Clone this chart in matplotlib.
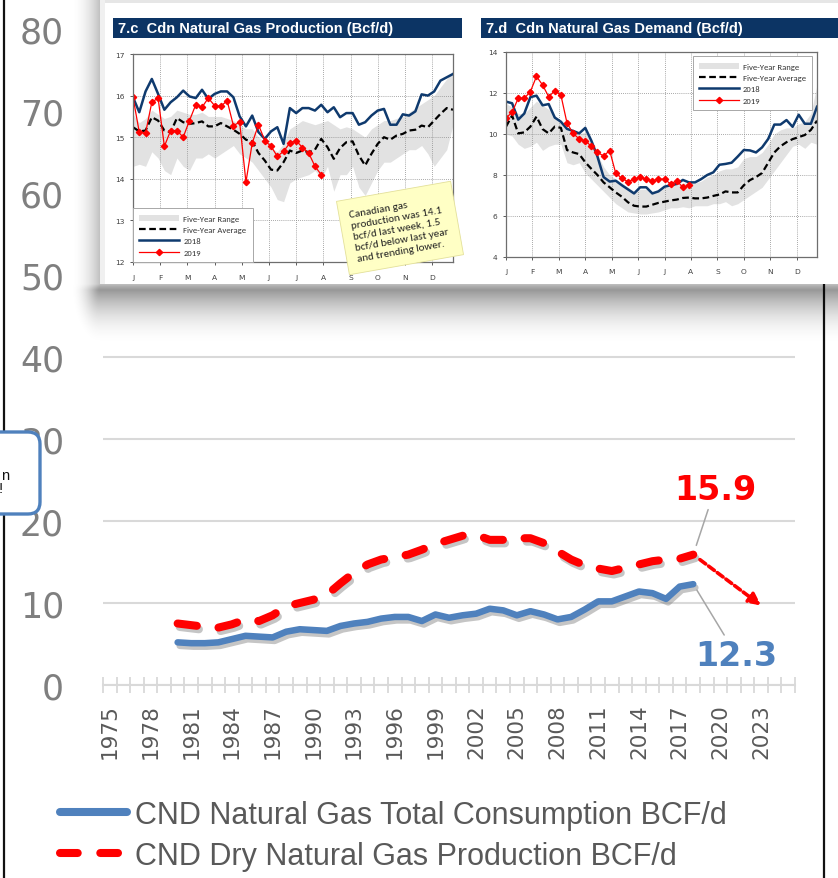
import numpy as np
import matplotlib
matplotlib.use("Agg")
import matplotlib.pyplot as plt
from matplotlib import font_manager
from matplotlib import patheffects as pe
from matplotlib.lines import Line2D
from matplotlib.patches import Rectangle, FancyBboxPatch

W, H = 838, 879

# ---- main chart data (BCF/d) ----
years = list(range(1980, 2019))
consumption = [5.2, 5.1, 5.1, 5.2, 5.6, 6.0, 5.9, 5.8, 6.5, 6.8,
               6.7, 6.6, 7.2, 7.5, 7.7, 8.1, 8.3, 8.3, 7.8, 8.6,
               8.2, 8.5, 8.7, 9.3, 9.1, 8.5, 9.0, 8.6, 8.0, 8.3,
               9.2, 10.2, 10.2, 10.8, 11.4, 11.2, 10.5, 12.0, 12.3]
production = [7.5, 7.3, 7.1, 7.0, 7.4, 8.0, 7.8, 8.5, 9.6, 10.0,
              10.4, 11.0, 12.4, 13.7, 14.7, 15.3, 15.6, 15.9, 16.5, 17.2,
              17.7, 18.2, 18.3, 17.7, 17.7, 17.9, 17.9, 17.3, 16.3, 15.3,
              14.6, 14.2, 13.9, 14.3, 14.7, 15.1, 15.3, 15.4, 15.9]
proj_years = [2018, 2023]
proj_values = [15.9, 9.7]
tick_years = list(range(1975, 2024, 3))
legend_labels = ["CND Natural Gas Total Consumption BCF/d",
                 "CND Dry Natural Gas Production BCF/d"]

# ---- inset charts (weekly, Bcf/d) ----
months = ["J", "F", "M", "A", "M", "J", "J", "A", "S", "O", "N", "D"]
prod_hi = [15.55, 15.35, 15.45, 15.65, 15.55, 15.45, 15.5, 15.65, 15.6, 15.55,
           15.55, 15.6, 15.5, 15.5, 15.5, 15.45, 15.4, 15.3, 15.2, 15.2,
           15.0, 14.9, 14.75, 14.65, 14.85, 15.2, 15.3, 15.4, 15.35, 15.3,
           15.35, 15.4, 15.3, 15.2, 15.25, 15.2, 15.1, 15.0, 15.2, 15.3,
           15.4, 15.4, 15.45, 15.5, 15.6, 15.7, 15.8, 15.9, 16.0, 16.2,
           16.4, 16.6]
prod_lo = [14.3, 14.35, 14.3, 14.65, 14.5, 14.2, 14.1, 14.5, 14.3, 14.2,
           14.5, 14.5, 14.6, 14.5, 14.6, 14.7, 14.8, 14.6, 14.5, 14.4,
           14.2, 14.0, 13.8, 13.5, 13.45, 13.9, 14.0, 14.05, 14.1, 14.2,
           14.0, 14.3, 13.7, 14.1, 14.1, 14.3, 13.8, 13.6, 13.9, 14.2,
           14.4, 14.4, 14.5, 14.6, 14.7, 14.7, 14.8, 14.6, 14.3, 14.5,
           14.7, 15.3]
prod_avg = [15.24, 15.14, 15.16, 15.48, 15.4, 15.16, 15.12, 15.46, 15.36, 15.32,
            15.34, 15.38, 15.26, 15.26, 15.34, 15.26, 15.18, 15.08, 14.94, 14.9,
            14.62, 14.44, 14.22, 14.2, 14.4, 14.68, 14.62, 14.68, 14.64, 14.7,
            14.96, 14.76, 14.48, 14.74, 14.88, 14.9, 14.56, 14.32, 14.6, 14.84,
            15.0, 14.94, 15.04, 15.08, 15.16, 15.18, 15.28, 15.24, 15.4, 15.56,
            15.7, 15.66]
prod_2018 = [15.96, 15.6, 16.1, 16.4, 16.04, 15.66, 15.84, 15.96, 16.12, 15.98,
             15.94, 16.14, 15.92, 16.04, 16.1, 16.1, 15.96, 15.5, 15.26, 15.52,
             15.12, 14.96, 15.14, 15.24, 14.84, 15.7, 15.58, 15.7, 15.7, 15.64,
             15.78, 15.6, 15.72, 15.48, 15.58, 15.58, 15.3, 15.36, 15.52, 15.64,
             15.68, 15.3, 15.3, 15.55, 15.52, 15.62, 16.03, 16.0, 16.1, 16.36,
             16.44, 16.52]
prod_2019 = [15.96, 15.12, 15.1, 15.84, 15.94, 14.78, 15.16, 15.16, 15.0, 15.4,
             15.78, 15.72, 15.94, 15.76, 15.74, 15.88, 15.28, 15.36, 13.92, 14.86,
             15.3, 14.92, 14.78, 14.54, 14.66, 14.86, 14.92, 14.75, 14.62, 14.3,
             14.1]

dem_hi = [11.5, 11.3, 11.0, 11.0, 11.3, 11.6, 11.4, 11.2, 10.9, 10.6,
          10.3, 10.1, 10.0, 10.1, 9.6, 9.0, 8.4, 8.0, 7.8, 7.6,
          7.4, 7.2, 7.3, 7.3, 7.2, 7.3, 7.4, 7.5, 7.5, 7.6,
          7.6, 7.6, 7.7, 7.9, 8.0, 8.2, 8.3, 8.3, 8.4, 8.8,
          8.9, 8.9, 9.1, 9.5, 10.0, 10.2, 10.3, 10.3, 10.5, 10.6,
          11.0, 12.4]
dem_lo = [10.0, 9.9, 9.5, 9.3, 9.4, 9.6, 9.2, 9.4, 9.5, 9.5,
          8.6, 8.5, 8.6, 8.1, 7.8, 7.5, 7.2, 6.9, 6.6, 6.4,
          6.2, 6.15, 6.1, 6.1, 6.15, 6.2, 6.3, 6.4, 6.4, 6.45,
          6.4, 6.5, 6.5, 6.5, 6.6, 6.6, 6.7, 6.5, 6.6, 6.8,
          7.0, 7.2, 7.4, 7.8, 8.2, 8.6, 9.0, 9.4, 9.5, 9.3,
          9.6, 9.5]
dem_avg = [10.36, 10.9, 10.03, 10.08, 10.36, 10.85, 10.24, 10.03, 10.36, 10.3,
           9.22, 9.1, 9.02, 8.62, 8.3, 8.0, 7.64, 7.4, 7.15, 6.94,
           6.67, 6.5, 6.46, 6.46, 6.55, 6.64, 6.7, 6.76, 6.8, 6.88,
           6.9, 6.86, 6.86, 6.9, 6.98, 7.05, 7.2, 7.15, 7.15, 7.5,
           7.75, 7.9, 8.1, 8.6, 9.1, 9.4, 9.6, 9.75, 9.85, 9.95,
           10.2, 10.65]
dem_2018 = [11.58, 11.5, 10.7, 11.0, 11.8, 11.87, 11.4, 11.46, 10.8, 10.6,
            10.25, 10.15, 10.03, 10.3, 9.67, 8.9, 7.9, 7.68, 7.72, 7.5,
            7.3, 7.1, 7.4, 7.4, 7.1, 7.2, 7.43, 7.5, 7.56, 7.76,
            7.64, 7.64, 7.8, 8.0, 8.13, 8.5, 8.54, 8.6, 8.9, 9.22,
            9.2, 9.1, 9.35, 9.76, 10.46, 10.46, 10.68, 10.35, 10.94, 10.5,
            10.5, 11.33]
dem_2019 = [10.78, 11.06, 11.74, 11.74, 12.07, 12.81, 12.39, 11.82, 12.11, 11.9,
            10.54, 10.03, 9.76, 9.67, 9.4, 9.1, 8.93, 9.19, 8.08, 7.84,
            7.67, 7.8, 7.89, 7.8, 7.72, 7.8, 7.8, 7.56, 7.72, 7.4,
            7.5]
note_text = ("Canadian gas\nproduction was 14.1\nbcf/d last week, 1.5\n"
             "bcf/d below last year\nand trending lower.")

BLUE, RED, NAVY, GREY = "#4F81BD", "#FF0000", "#0C3464", "#D9D9D9"

installed = {f.name for f in font_manager.fontManager.ttflist}


def pick(*names):
    for n in names:
        if n in installed:
            return n
    return "DejaVu Sans"


ARIAL = pick("Liberation Sans", "Arimo", "DejaVu Sans")
SOFT = pick("Carlito", "Lato", "Open Sans", "Liberation Sans")


def px(x0, y0, x1, y1):
    # pixel box (top-left origin) -> figure fraction rect
    return [x0 / W, 1 - y1 / H, (x1 - x0) / W, (y1 - y0) / H]


fig = plt.figure(figsize=(W / 100, H / 100), dpi=100)
fig.patch.set_facecolor("white")

# ---------------- main chart ----------------
ax = fig.add_axes(px(103, 30, 795, 686), zorder=0)
shadow = [pe.SimpleLineShadow(offset=(1.5, -2.5), shadow_color="#7f7f7f", alpha=0.45),
          pe.Normal()]
ax.plot(years, consumption, color=BLUE, lw=4.7, solid_capstyle="round",
        solid_joinstyle="round", path_effects=shadow, zorder=3)
ax.plot(years, production, color=RED, lw=5.8, ls=(0, (2.4, 2.7)),
        dash_capstyle="round", dash_joinstyle="round", path_effects=shadow, zorder=4)
ax.annotate("", xy=(proj_years[1], proj_values[1]),
            xytext=(proj_years[0], proj_values[0]),
            arrowprops=dict(arrowstyle="-|>,head_length=0.7,head_width=0.35",
                            color=RED, lw=2.6, linestyle=(0, (2, 1)),
                            shrinkA=6, shrinkB=0), zorder=4)

ax.annotate("15.9", xy=(years[-1], production[-1]), xytext=(2019.6, 23.9),
            ha="center", va="center", fontsize=24, fontweight="bold", color=RED,
            arrowprops=dict(arrowstyle="-", color="#A6A6A6", lw=1.1,
                            shrinkA=1, shrinkB=7))
ax.annotate("12.3", xy=(years[-1], consumption[-1]), xytext=(2021.2, 3.6),
            ha="center", va="center", fontsize=24, fontweight="bold", color=BLUE,
            arrowprops=dict(arrowstyle="-", color="#A6A6A6", lw=1.1,
                            shrinkA=1, shrinkB=5))

ax.set_xlim(1974.5, 2025.5)
ax.set_ylim(0, 80)
ax.set_yticks(range(0, 81, 10))
ax.set_xticks(tick_years)
ax.set_xticklabels([str(y) for y in tick_years], rotation=90)
ax.set_xticks(np.arange(1974.5, 2026, 1), minor=True)
ax.yaxis.grid(True, color=GREY, lw=1.5)
ax.set_axisbelow(True)
for s in ["left", "right", "top"]:
    ax.spines[s].set_visible(False)
ax.spines["bottom"].set_color(GREY)
ax.spines["bottom"].set_linewidth(1.5)
ax.tick_params(axis="x", which="major", length=0, pad=13, labelsize=15.5,
               labelcolor="#595959")
ax.tick_params(axis="x", which="minor", direction="inout", length=12, width=1.3,
               color=GREY)
ax.tick_params(axis="y", length=0, pad=28, labelsize=25, labelcolor="#7F7F7F")

h_cons = Line2D([], [], color=BLUE, lw=5.8, solid_capstyle="round")
h_prod = Line2D([], [], color=RED, lw=5.8, ls=(0, (2.2, 2.8)), dash_capstyle="round")
fig.legend([h_cons, h_prod], legend_labels, loc="upper left",
           bbox_to_anchor=(60 / W, 1 - 801 / H), frameon=False,
           prop={"family": ARIAL, "size": 22}, labelcolor="#595959",
           handlelength=2.2, handletextpad=0.25, labelspacing=0.36,
           borderpad=0, borderaxespad=0)

# ---------------- pasted screenshot (inset) ----------------
ov = fig.add_axes([0, 0, 1, 1], zorder=5)
ov.set_xlim(0, W)
ov.set_ylim(H, 0)
ov.axis("off")
ov.axvline(4, color="#111111", lw=1.6, zorder=1)
ov.axvline(824, color="#111111", lw=1.6, zorder=1)

yy, xx = np.mgrid[0:H, 0:W] + 0.5
dx = np.clip(100 - xx, 0, None)
dy = np.clip(yy - 285, 0, None)
fall = np.clip(1 - np.hypot(dx / 30, dy / 62), 0, 1) ** 2
weight = 0.5 + 0.5 * np.clip(dy / 6, 0, 1)
shade = np.zeros((H, W, 4))
shade[..., 3] = 0.5 * fall * weight
ov.imshow(shade, extent=(0, W, H, 0), aspect="auto", interpolation="bilinear", zorder=2)
ov.add_patch(Rectangle((100, 0), W, 285, fc="white", ec="none", zorder=3))
ov.add_patch(Rectangle((100, 0), W, 4, fc="#E6E6E6", ec="none", zorder=4))
ov.add_patch(Rectangle((100, 0), 5, 285, fc="#F0F0F0", ec="none", zorder=4))


def mini(rect, ylim, ystep, hi, lo, avg, y18, y19, leg_loc, leg_anchor, ypad, xpad):
    a = fig.add_axes(px(*rect), zorder=6)
    wk = np.arange(len(avg))
    a.fill_between(wk, lo, hi, color="#E2E2E2", lw=0, label="Five-Year Range")
    a.plot(wk, avg, color="black", lw=1.6, ls=(0, (3, 1.6)), label="Five-Year Average")
    a.plot(wk, y18, color="#0F3A6E", lw=1.8, label="2018")
    a.plot(wk[:len(y19)], y19, color=RED, lw=0.9, marker="D", ms=3.2,
           label="2019")
    a.set_xlim(0, len(avg) - 1)
    a.set_ylim(*ylim)
    a.set_xticks(np.arange(12) * len(avg) / 12)
    a.set_xticklabels(months)
    a.set_yticks(np.arange(ylim[0], ylim[1] + 0.1, ystep))
    a.grid(True, ls=(0, (1, 1.5)), color="#8C8C8C", lw=0.6)
    for s in a.spines.values():
        s.set_color("#6E6E6E")
        s.set_linewidth(0.9)
    a.tick_params(axis="both", labelsize=5.4, colors="#404040", length=2, width=0.6)
    a.tick_params(axis="x", pad=xpad)
    a.tick_params(axis="y", pad=ypad)
    leg = a.legend(loc=leg_loc, bbox_to_anchor=leg_anchor,
                   prop={"family": SOFT, "size": 6.2}, handlelength=4.6,
                   handletextpad=0.5, labelspacing=0.5, borderpad=0.75,
                   borderaxespad=0, fancybox=False, framealpha=1,
                   edgecolor="#A8A8A8")
    leg.get_frame().set_linewidth(0.7)
    for t in leg.get_texts():
        t.set_color("#333333")
    return a


mini((133, 55, 453, 263), (12, 17), 1, prod_hi, prod_lo, prod_avg, prod_2018,
     prod_2019, "lower left", (0, 0), 4, 7)
mini((506, 53, 817, 258), (4, 14), 2, dem_hi, dem_lo, dem_avg, dem_2018,
     dem_2019, "upper right", (0.985, 0.98), 4, 6)

top = fig.add_axes([0, 0, 1, 1], zorder=7)
top.set_xlim(0, W)
top.set_ylim(H, 0)
top.axis("off")
top.add_patch(Rectangle((113, 19), 349, 20, fc=NAVY, ec="none"))
top.text(118, 29.5, "7.c  Cdn Natural Gas Production (Bcf/d)", color="white",
         fontweight="bold", fontsize=10.5, family=ARIAL, va="center", ha="left")
top.add_patch(Rectangle((481, 19), 360, 20, fc=NAVY, ec="none"))
top.text(486, 29.5, "7.d  Cdn Natural Gas Demand (Bcf/d)", color="white",
         fontweight="bold", fontsize=10.5, family=ARIAL, va="center", ha="left")

top.text(400, 229, note_text, rotation=10, rotation_mode="anchor", ha="center",
         va="center", multialignment="left", family=SOFT, fontsize=8.0,
         color="#222222", linespacing=1.3,
         bbox=dict(boxstyle="square,pad=0.95", fc="#FFFFC5", ec="#E3E09A", lw=0.6))

# cut-off callout at left edge
top.add_patch(FancyBboxPatch((-40, 433), 80, 82,
                             boxstyle="round,pad=0,rounding_size=12",
                             fc="white", ec=BLUE, lw=2.4))
top.text(1, 476, "n", fontsize=10.5, family=ARIAL, va="center", ha="left",
         color="#111111")
top.text(-1, 489, "!", fontsize=10.5, family=ARIAL, va="center", ha="left",
         color="#111111")

fig.savefig("out.png", dpi=100, facecolor="white")
